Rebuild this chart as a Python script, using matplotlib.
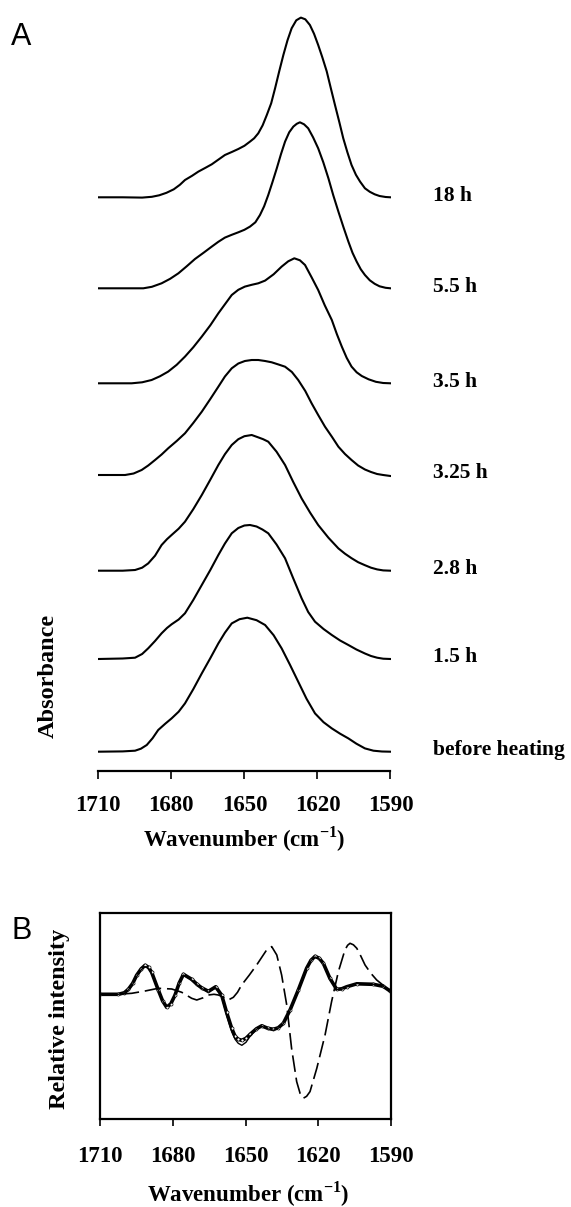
import matplotlib
matplotlib.use("Agg")
import matplotlib.pyplot as plt

plt.rcParams['font.family'] = ['Liberation Serif', 'DejaVu Serif']
plt.rcParams['mathtext.fontset'] = 'custom'
plt.rcParams['mathtext.rm'] = 'Liberation Serif:bold'
plt.rcParams['mathtext.bf'] = 'Liberation Serif:bold'

# Panel A: absorbance spectra (arbitrary units, height above each baseline)
labels_a = ["18 h", "5.5 h", "3.5 h", "3.25 h", "2.8 h", "1.5 h", "before heating"]

wn_18h = [1710, 1700, 1692, 1688, 1685, 1682, 1679, 1676.5, 1674.4, 1671.5, 1668.9, 1666, 1663.4,
          1660.5, 1658, 1655, 1652.5, 1650, 1647.7, 1646, 1644.3, 1642.5, 1640.8, 1639, 1637.4,
          1635.7, 1634, 1632.3, 1630.6, 1628.7, 1626.8, 1625, 1623.1, 1621.4, 1619.7, 1618, 1616.2,
          1614.5, 1612.8, 1611, 1609.4, 1607.7, 1606, 1604.2, 1602.5, 1600.5, 1598.5, 1596.5,
          1594.5, 1592, 1590]
abs_18h = [0, 0, -0.3, 0.5, 2, 4.5, 8, 12.5, 17.3, 21.5, 25.7, 29.5, 33,
           38, 42.3, 45.5, 48.3, 51.5, 55.7, 59, 64, 72, 82.3, 94, 109,
           126, 142.3, 157, 169, 177, 179.7, 178, 172.3, 163.5, 152.3, 140, 126,
           109, 92.3, 75, 59, 45, 32.3, 22.5, 15.7, 9, 5.5, 3,
           1.3, 0.3, 0]

wn_5h = [1710, 1700, 1691.5, 1688, 1684, 1680.5, 1677.1, 1673.7, 1670.3, 1666.8, 1663.4, 1660.7,
         1658, 1655.2, 1652.5, 1650, 1647.7, 1645.5, 1643.6, 1641.9, 1640.2, 1638.5, 1636.7, 1635,
         1633.3, 1631.6, 1629.9, 1628.5, 1627.2, 1625.5, 1623.8, 1621.8, 1619.7, 1617.6, 1615.5,
         1613.5, 1611.4, 1609.3, 1607.3, 1605.6, 1603.9, 1602.2, 1600.5, 1598.5, 1596.5, 1594.5,
         1592, 1590]
abs_5h = [0, 0, 0, 1.5, 5, 9.5, 15, 22, 29.3, 35.5, 41.7, 46.5,
          50.7, 53.5, 56, 58.5, 61.7, 66, 73.3, 82, 93.3, 106, 120, 134,
          146.7, 156, 161.7, 164.5, 166, 164, 160, 151, 140, 126, 110,
          93, 76.7, 61, 46.7, 35.5, 26.7, 19, 13.3, 8, 4.5, 2,
          0.5, 0]

wn_3h5 = [1710, 1700, 1696.3, 1692, 1688.1, 1684.7, 1681.3, 1677.8, 1674.4, 1671, 1667.5, 1664,
          1660.7, 1658, 1655.2, 1652.5, 1649.8, 1647, 1644.3, 1641.5, 1638, 1634.7, 1632, 1629.5,
          1627.2, 1625.1, 1622.4, 1619.7, 1617, 1614.1, 1612, 1610, 1608, 1606, 1603.9, 1601.8,
          1599, 1596, 1593, 1590]
abs_3h5 = [0, 0, 0, 1, 3.3, 7, 11.7, 18.5, 26.7, 36, 46.7, 58,
           70, 79, 88.3, 93.5, 96.7, 98.5, 100, 102.7, 109, 116.7, 122, 125,
           123, 118.3, 106, 93.3, 78, 63.3, 49, 36.7, 25.5, 16.7, 11, 7.3,
           4, 1.5, 0.3, 0]

wn_3h25 = [1710, 1699, 1695.5, 1692.2, 1689.5, 1686.7, 1684, 1681.3, 1677.8, 1674.4, 1671, 1667.5,
           1664, 1660.7, 1658, 1655.2, 1652.5, 1649.8, 1647, 1644.3, 1641.5, 1638.8, 1636, 1633.3,
           1630.5, 1627.9, 1625, 1622.4, 1619.7, 1616.9, 1614, 1611.4, 1608.7, 1606, 1603.3, 1600.5,
           1598, 1595.5, 1593, 1590]
abs_3h25 = [0, 0, 1.5, 5, 9.5, 15, 20.5, 26.7, 34, 41.7, 52, 63.3,
            76, 88.3, 98.5, 106.7, 111.5, 114, 115, 115, 114, 112.7, 110.5, 108.3,
            103, 95, 84, 71.7, 60, 48.3, 38, 28.3, 21, 15, 9.5, 5.5,
            3, 1, 0, -1]

wn_2h8 = [1710, 1700, 1694.9, 1692, 1689.5, 1686.7, 1684, 1681.8, 1679.9, 1677, 1674.4, 1671,
          1667.5, 1664, 1660.7, 1658, 1655.2, 1652.5, 1650, 1647, 1644.5, 1642.3, 1640.2, 1636.8,
          1633.3, 1630, 1626.5, 1623, 1619.7, 1615.5, 1611.4, 1608.7, 1606, 1603.3, 1600.5, 1598,
          1595.5, 1593, 1590]
abs_2h8 = [0, 0, 0.7, 3, 7.3, 15, 25.7, 31.5, 35.7, 42, 49, 61.5,
           75.7, 91, 105.7, 116.5, 125.7, 131.5, 134.5, 135.7, 133.5, 131.5, 129, 119,
           105.7, 89, 72.3, 58, 45.7, 33, 22.3, 17, 12.5, 8.5, 5.5, 3,
           1.3, 0.3, 0]

wn_1h5 = [1710, 1700, 1694.9, 1692, 1689.5, 1686.7, 1684, 1681.8, 1679.9, 1677, 1674.4, 1671,
          1667.5, 1664, 1660.7, 1658, 1655.2, 1652.5, 1650, 1647.7, 1645, 1642.6, 1640.2, 1636.8,
          1633.3, 1630, 1626.5, 1623.8, 1621, 1617.5, 1614.1, 1610.7, 1607.3, 1604, 1600.5, 1598,
          1595.5, 1593, 1590]
abs_1h5 = [0, 0.5, 1.3, 5, 10.7, 18, 25.7, 31, 34.7, 39.5, 45.7, 59,
           74, 89, 104, 115.5, 125.7, 131, 133.5, 134, 132.5, 129.5, 125.7, 114.5,
           100.7, 81, 60.7, 47, 37.3, 30, 24, 18.5, 14, 9.5, 5.5, 3,
           1.3, 0.3, 0]

wn_before = [1710, 1700, 1694.9, 1692.5, 1690.1, 1687.7, 1685.4, 1682.5, 1679.9, 1677, 1674.4,
             1671, 1667.5, 1664, 1660.7, 1658, 1655.2, 1652, 1648.8, 1645, 1641.5, 1638, 1634.7,
             1631.3, 1627.9, 1624.5, 1621, 1617.5, 1614.1, 1610.7, 1607.3, 1604, 1600.5, 1597,
             1593.5, 1590]
abs_before = [0, 0.3, 1, 3, 6.7, 13.5, 21.7, 28, 33.3, 40, 48.3,
              62.5, 78.3, 93.5, 108.3, 119, 128.3, 132.5, 134, 131.5, 126.7, 116.5, 103.3,
              87, 70, 53, 38.3, 29.5, 23.3, 18, 13.3, 8, 3.3, 1,
              0.2, 0]

# vertical stacking of the spectra (same order as labels_a)
offsets_a = [573.4, 482.4, 387.4, 295.7, 200, 111.7, 19]

# Panel B: band-narrowed spectra, measured (circles) and fitted (thin line), plus difference (dashed)
wn_b = [1710, 1702.4, 1700, 1698.3, 1696.5, 1694.9, 1693, 1691.4, 1690, 1688.7, 1686, 1684.2,
        1682.5, 1680.8, 1679.1, 1677.3, 1675.6, 1672.2, 1670, 1668.1, 1665.3, 1662.3, 1659.8,
        1657.8, 1655.7, 1654.3, 1653, 1651.5, 1649.8, 1648.1, 1645.5, 1643.3, 1640.8, 1638.5,
        1636.5, 1634.4, 1631.6, 1628.2, 1624.8, 1623, 1621.3, 1619.6, 1617.9, 1615.2, 1612.4,
        1610.3, 1608.3, 1604.1, 1597.3, 1593.2, 1590.5]
int_fit = [0, 0, 0.12, 0.43, 1.0, 1.77, 2.45, 2.77, 2.6, 2.1, 0.43, -0.6,
           -1.23, -0.9, -0.07, 1.1, 1.93, 1.43, 0.95, 0.6, 0.2, 0.67, -0.23,
           -2.07, -3.73, -4.5, -4.9, -5.1, -4.8, -4.2, -3.5, -3.2, -3.45, -3.6,
           -3.4, -2.93, -1.6, 0.4, 2.57, 3.35, 3.73, 3.55, 3.07, 1.57, 0.47,
           0.5, 0.73, 1.07, 1.0, 0.8, 0.3]
int_exp = [0, 0, 0.15, 0.5, 1.1, 1.9, 2.55, 2.9, 2.7, 2.2, 0.45, -0.65,
           -1.3, -0.95, -0.1, 1.15, 2.0, 1.5, 1.0, 0.65, 0.3, 0.75, -0.1,
           -1.8, -3.4, -4.2, -4.5, -4.6, -4.4, -4.0, -3.45, -3.15, -3.4, -3.5,
           -3.35, -2.9, -1.55, 0.45, 2.6, 3.4, 3.8, 3.6, 3.1, 1.6, 0.5,
           0.55, 0.75, 1.05, 1.0, 0.8, 0.35]

wn_diff = [1710, 1703, 1696.9, 1691.4, 1686, 1680.4, 1676.3, 1672.2, 1670.1, 1667.5, 1665.3, 1663,
           1661.2, 1659, 1657.1, 1655, 1653.3, 1651.6, 1648.5, 1645.4, 1643.3, 1641.3, 1639.2,
           1637.1, 1635.1, 1633, 1631, 1628.9, 1627.5, 1626.2, 1624.8, 1623.4, 1620.6, 1617.2,
           1614.5, 1611.7, 1609, 1607.9, 1606.9, 1605.5, 1604.1, 1602.4, 1600.7, 1598.3, 1595.9,
           1593.2, 1590.5]
int_diff = [0, 0, 0.1, 0.33, 0.6, 0.53, 0.2, -0.4, -0.57, -0.35, -0.07, 0,
            -0.07, -0.3, -0.57, -0.3, 0.2, 0.93, 1.9, 2.93, 3.7, 4.43, 4.77,
            3.93, 1.93, -1.07, -5.4, -8.73, -9.9, -10.4, -10.2, -9.73, -7.4, -4.07,
            -0.73, 2.27, 4.43, 4.9, 5.1, 4.95, 4.6, 3.8, 2.93, 2.1, 1.43,
            0.9, 0.43]

xticks = [1710, 1680, 1650, 1620, 1590]

W, H = 571, 1207


def fx(px):
    return px / W


def fy(py):
    return 1 - py / H


fig = plt.figure(figsize=(W / 100, H / 100), dpi=100)

# ---- panel A ----
axA = fig.add_axes([fx(98.3), fy(770.7), fx(390.5) - fx(98.3), (770.7 - 10) / H])
spectra = [(wn_18h, abs_18h), (wn_5h, abs_5h), (wn_3h5, abs_3h5), (wn_3h25, abs_3h25),
           (wn_2h8, abs_2h8), (wn_1h5, abs_1h5), (wn_before, abs_before)]
for (wn, ab), off, lab in zip(spectra, offsets_a, labels_a):
    axA.plot(wn, [a + off for a in ab], color='black', lw=1.5, solid_joinstyle='round')
    axA.text(1572.5, off + 1.5, lab, fontsize=15.5, fontweight='bold',
             ha='left', va='center', clip_on=False)
axA.set_xlim(1710, 1590)
axA.set_ylim(0, 760.7)
for s in ['top', 'right', 'left']:
    axA.spines[s].set_visible(False)
axA.spines['bottom'].set_linewidth(1.6)
axA.set_yticks([])
axA.set_xticks(xticks)
axA.tick_params(axis='x', direction='out', length=5.4, width=1.2, pad=12, labelsize=16.5)
for t in axA.get_xticklabels():
    t.set_fontweight('bold')

fig.text(fx(244), fy(839), r'Wavenumber (cm$^{-1}$)', fontsize=16.5, fontweight='bold',
         ha='center', va='center')
fig.text(fx(48), fy(676), 'Absorbance', fontsize=17.5, fontweight='bold', rotation=90,
         ha='center', va='center')
fig.text(fx(11), fy(45), 'A', fontsize=22, family='Liberation Sans', ha='left', va='baseline')

# ---- panel B ----
axB = fig.add_axes([fx(100), fy(1119), fx(391) - fx(100), (1119 - 913) / H])
axB.plot(wn_b, int_exp, color='black', lw=2.6, marker='o', ms=2.2, mfc='white',
         mec='black', mew=0.5, solid_joinstyle='round')
axB.plot(wn_b, int_fit, color='black', lw=1.0)
axB.plot(wn_diff, int_diff, color='black', lw=1.2, dashes=(10, 3.5))
axB.set_xlim(1710, 1590)
axB.set_ylim(-12.47, 8.13)
for s in axB.spines.values():
    s.set_linewidth(1.6)
axB.set_yticks([])
axB.set_xticks(xticks)
axB.tick_params(axis='x', direction='out', length=5.2, width=1.2, pad=14, labelsize=16.5)
for t in axB.get_xticklabels():
    t.set_fontweight('bold')

fig.text(fx(248), fy(1194), r'Wavenumber (cm$^{-1}$)', fontsize=16.5, fontweight='bold',
         ha='center', va='center')
fig.text(fx(60), fy(1019), 'Relative intensity', fontsize=17.5, fontweight='bold',
         rotation=90, ha='center', va='center')
fig.text(fx(11), fy(939), 'B', fontsize=22, family='Liberation Sans', ha='left', va='baseline')

fig.savefig('out.png', dpi=100)
